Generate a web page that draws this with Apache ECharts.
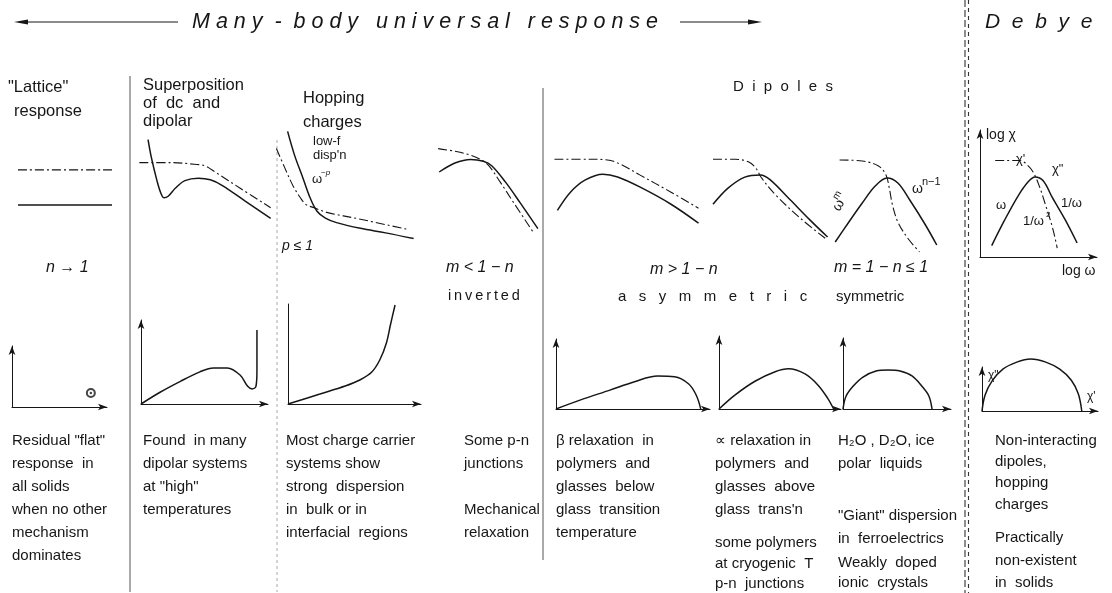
<!DOCTYPE html>
<html>
<head>
<meta charset="utf-8">
<script src="https://cdn.jsdelivr.net/npm/echarts@6/dist/echarts.min.js"></script>
<style>
  html, body { margin: 0; padding: 0; background: #fff; }
  #chart { width: 1112px; height: 593px; }
</style>
</head>
<body>
<div id="chart"></div>
<script>
// ---- Frequency-domain sketches: x = log ω, y = log χ (0..100 within each panel) ----
// real part χ' is drawn dash-dot, loss χ'' solid
const latticeReal   = [[0, 82], [100, 82]];
const latticeLoss   = [[0, 18], [100, 18]];

const superposReal  = [[1, 70], [25, 70], [42, 68], [50, 66], [58, 58], [76, 39], [99, 15]];
const superposLoss  = [[7.5, 98], [10, 76], [14, 49], [17, 33], [19.5, 27], [22.5, 29], [28, 39], [35, 48], [45, 51], [54, 49], [63, 42], [80, 23], [99, 2]];

const hoppingReal   = [[1, 82], [7, 65], [13, 49], [18, 39], [22, 33], [28, 30], [37, 26], [61, 20], [95, 11]];
const hoppingLoss   = [[9, 97], [14, 76], [20, 56], [25, 39], [30, 27], [36, 21], [44, 17], [61, 12], [79, 8], [99, 3]];

const invertedReal  = [[3, 96], [19, 93], [33, 89], [45, 83], [52, 76], [62, 59], [76, 34], [93, 4]];
const invertedLoss  = [[4, 70], [19, 80], [34, 84], [46, 82], [54, 77], [67, 59], [81, 36], [98, 7]];

const asym1Real     = [[1, 94], [25, 94], [37, 93], [46, 87], [59, 72], [80, 48], [99, 25]];
const asym1Loss     = [[3, 22], [12, 48], [22, 65], [34, 73], [44, 69], [59, 55], [80, 31], [99, 4]];

const asym2Real     = [[2.5, 95], [21, 95], [32, 92], [38, 85], [43, 73], [54, 54], [75, 26], [96, 2]];
const asym2Loss     = [[2.5, 42], [15, 61], [29, 74], [42, 76.5], [50, 71], [67, 47], [83, 24], [98, 3.5]];

const symReal       = [[7, 95], [28, 94], [43, 89], [50, 80], [53, 67], [56, 50], [61, 33], [70, 17], [81, 3]];
const symLoss       = [[3, 13], [15, 32], [28, 52], [40, 69], [51, 77], [61, 72], [72, 55], [86, 31], [97, 10]];

const debyeReal     = [[13, 76], [34, 76], [41, 72], [46, 66], [51, 55], [56, 41], [62, 23], [66, 7]];
const debyeLoss     = [[10, 9], [21, 29], [32.5, 48], [41, 59], [47, 63], [54, 60], [62, 46.5], [73, 29], [83, 11]];

// ---- Complex-plane sketches: x = χ', y = χ'' ----
const latticePoint  = [[83, 23]];
const superposArc   = [[0, 0], [15, 14], [31, 27], [46, 38], [57, 43], [68, 43], [78, 34.5], [84, 21], [87.5, 18], [90.5, 21], [91.3, 40], [91.3, 70], [91.3, 88]];
const hoppingArc    = [[0, 0], [24, 10], [43, 18], [54, 24], [63, 32], [69, 44], [74, 61], [77, 79], [80.5, 99]];
const asym1Arc      = [[0, 0], [16, 13], [35, 27], [51, 39], [66, 47], [77, 46], [86, 36], [91, 20], [94, 0]];
const asym2Arc      = [[0, 0], [13, 19], [29.5, 38], [46, 51], [57, 55], [70.5, 48], [81, 33], [89, 15], [94, 0]];
const symArc        = [[0, 0], [2.8, 18], [9.3, 32], [18.5, 45], [30.6, 53.5], [41.7, 55], [52.8, 53.5], [63.9, 46.5], [73.1, 32], [79.6, 18], [82.4, 0]];
const debyeArc      = [[0, 0], [2.6, 36], [8.6, 68], [18, 95], [30, 111], [42, 118], [55, 111], [67, 95], [77, 70], [83, 39], [86, 0]];

// ---- Text ----
const titleText   = 'M a n y  -  b o d y   u n i v e r s a l   r e s p o n s e';
const debyeTitle  = 'D  e  b  y  e';
const colHeads = [
  { x: 8,   y: 87,  t: '"Lattice"' },
  { x: 14,  y: 111, t: 'response' },
  { x: 143, y: 85,  t: 'Superposition' },
  { x: 143, y: 103, t: 'of  dc  and' },
  { x: 143, y: 121, t: 'dipolar' },
  { x: 303, y: 98,  t: 'Hopping' },
  { x: 303, y: 122, t: 'charges' },
  { x: 733, y: 87,  t: 'D  i  p  o  l  e  s', size: 15 }
];
const rowLabels = [
  { x: 46,  y: 268, t: 'n \u2192 1', i: true },
  { x: 446, y: 268, t: 'm < 1 \u2212 n', i: true },
  { x: 448, y: 296, t: 'i\u2009n\u2009v\u2009e\u2009r\u2009t\u2009e\u2009d', size: 14.5 },
  { x: 650, y: 270, t: 'm > 1 \u2212 n', i: true },
  { x: 618, y: 297, t: 'a   s   y   m   m   e   t   r   i   c', size: 15 },
  { x: 834, y: 268, t: 'm = 1 \u2212 n \u2264 1', i: true },
  { x: 836, y: 297, t: 'symmetric', size: 15 }
];
const notesX = [12, 143, 286, 464, 556, 715, 838, 995];
const notes = [
  [['Residual "flat"', 441], ['response  in', 464], ['all solids', 487], ['when no other', 510], ['mechanism', 533], ['dominates', 556]],
  [['Found  in many', 441], ['dipolar systems', 464], ['at "high"', 487], ['temperatures', 510]],
  [['Most charge carrier', 441], ['systems show', 464], ['strong  dispersion', 487], ['in  bulk or in', 510], ['interfacial  regions', 533]],
  [['Some p-n', 441], ['junctions', 464], ['Mechanical', 510], ['relaxation', 533]],
  [['\u03b2 relaxation  in', 441], ['polymers  and', 464], ['glasses  below', 487], ['glass  transition', 510], ['temperature', 533]],
  [['\u221d relaxation in', 441], ['polymers  and', 464], ['glasses  above', 487], ["glass  trans'n", 510], ['some polymers', 543], ['at cryogenic  T', 564], ['p-n  junctions', 584]],
  [['H\u2082O , D\u2082O, ice', 441], ['polar  liquids', 464], ['"Giant" dispersion', 516], ['in  ferroelectrics', 539], ['Weakly  doped', 563], ['ionic  crystals', 583]],
  [['Non-interacting', 441], ['dipoles,', 462], ['hopping', 483], ['charges', 505], ['Practically', 538], ['non-existent', 561], ['in  solids', 583]]
];

// ---- Panel layout: [left, top, width, height] in px ----
const panels = [
  { box: [18, 160, 94, 55],    axes: false, real: latticeReal,  loss: latticeLoss },
  { box: [138, 138, 134, 82],  axes: false, real: superposReal, loss: superposLoss },
  { box: [275, 128, 140, 114], axes: false, real: hoppingReal,  loss: hoppingLoss },
  { box: [435, 145, 105, 90],  axes: false, real: invertedReal, loss: invertedLoss },
  { box: [553, 155, 147, 71],  axes: false, real: asym1Real,    loss: asym1Loss },
  { box: [710, 155, 120, 85],  axes: false, real: asym2Real,    loss: asym2Loss },
  { box: [832, 155, 108, 100], axes: false, real: symReal,      loss: symLoss },
  { box: [980, 130, 117, 127], axes: true,  real: debyeReal,    loss: debyeLoss },
  { box: [12, 346, 95, 61],    axes: true,  point: latticePoint },
  { box: [141, 320, 127, 84],  axes: true,  loss: superposArc },
  { box: [288, 304, 133, 100], axes: true,  loss: hoppingArc, noYArrow: true },
  { box: [556, 339, 154, 70],  axes: true,  loss: asym1Arc },
  { box: [719, 336, 122, 73],  axes: true,  loss: asym2Arc },
  { box: [843, 338, 108, 71],  axes: true,  loss: symArc },
  { box: [982, 367, 116, 44],  axes: true,  loss: debyeArc }
];

const INK = '#161616';
const FONT = '"Liberation Sans", Arial, sans-serif';

const grids = [], xAxes = [], yAxes = [], series = [];
panels.forEach((p, i) => {
  grids.push({ left: p.box[0], top: p.box[1], width: p.box[2], height: p.box[3], containLabel: false });
  const axisBase = (arrow) => ({
    type: 'value', min: 0, max: 100, gridIndex: i, show: p.axes,
    axisLine: {
      show: true, onZero: false,
      symbol: arrow ? ['none', 'arrow'] : ['none', 'none'], symbolSize: [5, 9],
      lineStyle: { color: INK, width: 1 }
    },
    axisTick: { show: false }, axisLabel: { show: false }, splitLine: { show: false }
  });
  xAxes.push(axisBase(true));
  yAxes.push(axisBase(!p.noYArrow));
  if (p.real) {
    series.push({
      type: 'line', xAxisIndex: i, yAxisIndex: i, data: p.real, smooth: 0.35,
      symbol: 'none', silent: true, clip: false,
      lineStyle: { color: INK, width: 1.1, type: [9, 3, 2, 3] }
    });
  }
  if (p.loss) {
    series.push({
      type: 'line', xAxisIndex: i, yAxisIndex: i, data: p.loss, smooth: 0.35,
      symbol: 'none', silent: true, clip: false,
      lineStyle: { color: INK, width: 1.5 }
    });
  }
  if (p.point) {
    // a ringed dot: outer circle plus centre dot
    series.push({
      type: 'scatter', xAxisIndex: i, yAxisIndex: i, data: p.point, silent: true,
      symbol: 'emptyCircle', symbolSize: 8,
      itemStyle: { color: INK, borderColor: INK, borderWidth: 1 }
    });
    series.push({
      type: 'scatter', xAxisIndex: i, yAxisIndex: i, data: p.point, silent: true,
      symbol: 'circle', symbolSize: 2.5, itemStyle: { color: INK }, z: 5
    });
  }
});

// ---- Graphic decorations: text, separators, header arrows ----
const g = [];
function txt(x, y, text, size, opt) {
  opt = opt || {};
  g.push({
    type: 'text', x: x, y: y, rotation: opt.rot || 0, silent: true,
    style: {
      text: text, fill: INK,
      font: (opt.italic ? 'italic ' : '') + size + 'px ' + FONT,
      align: opt.align || 'left', verticalAlign: 'middle'
    }
  });
}
function vline(x, y1, y2, color, dash, w) {
  g.push({ type: 'line', silent: true, shape: { x1: x, y1: y1, x2: x, y2: y2 },
    style: { stroke: color, lineWidth: w || 1, lineDash: dash || null } });
}

txt(192, 22, titleText, 21.5, { italic: true });
txt(985, 22, debyeTitle, 21, { italic: true });
// header arrows
g.push({ type: 'line', silent: true, shape: { x1: 24, y1: 22, x2: 178, y2: 22 }, style: { stroke: INK, lineWidth: 1 } });
g.push({ type: 'polygon', silent: true, shape: { points: [[14, 22], [28, 19.5], [28, 24.5]] }, style: { fill: INK } });
g.push({ type: 'line', silent: true, shape: { x1: 680, y1: 22, x2: 752, y2: 22 }, style: { stroke: INK, lineWidth: 1 } });
g.push({ type: 'polygon', silent: true, shape: { points: [[762, 22], [748, 19.5], [748, 24.5]] }, style: { fill: INK } });

colHeads.forEach(c => txt(c.x, c.y, c.t, c.size || 16.5));
rowLabels.forEach(r => txt(r.x, r.y, r.t, r.size || 16, { italic: r.i }));
notes.forEach((col, ci) => col.forEach(l => txt(notesX[ci], l[1], l[0], 15)));

// labels inside the sketches
txt(313, 141, 'low-f', 13);
txt(313, 155, "disp'n", 13);
txt(312, 179, '\u03c9', 13);
txt(321, 173, '\u2212p', 8, { italic: true });
txt(282, 246, 'p \u2264 1', 14, { italic: true });
txt(836, 210, '\u03c9', 14, { rot: 1.05 });
txt(835, 199, 'm', 10, { rot: 1.05 });
txt(912, 189, '\u03c9', 14);
txt(922, 182, 'n\u22121', 11);
txt(986, 135, 'log \u03c7', 14);
txt(1016, 159, "\u03c7'", 13);
txt(1052, 169, '\u03c7"', 13);
txt(996, 205, '\u03c9', 13);
txt(1061, 203, '1/\u03c9', 13);
txt(1023, 221, '1/\u03c9', 13);
txt(1046, 215, '2', 8);
txt(1062, 271, 'log \u03c9', 14);
txt(988, 376, '\u03c7"', 12);
txt(1087, 397, "\u03c7'", 12);

// column separators
vline(130, 76, 592, '#555');
vline(277, 140, 592, '#aaa', [3, 3]);
vline(543, 88, 560, '#555');
vline(965, 0, 593, '#333', [7, 3], 1.1);
vline(968.5, 0, 593, '#333', [4, 4], 1.1);

const chart = echarts.init(document.getElementById('chart'), null, { renderer: 'canvas' });
chart.setOption({
  backgroundColor: '#ffffff',
  animation: false,
  grid: grids,
  xAxis: xAxes,
  yAxis: yAxes,
  series: series,
  graphic: g
});
</script>
</body>
</html>
